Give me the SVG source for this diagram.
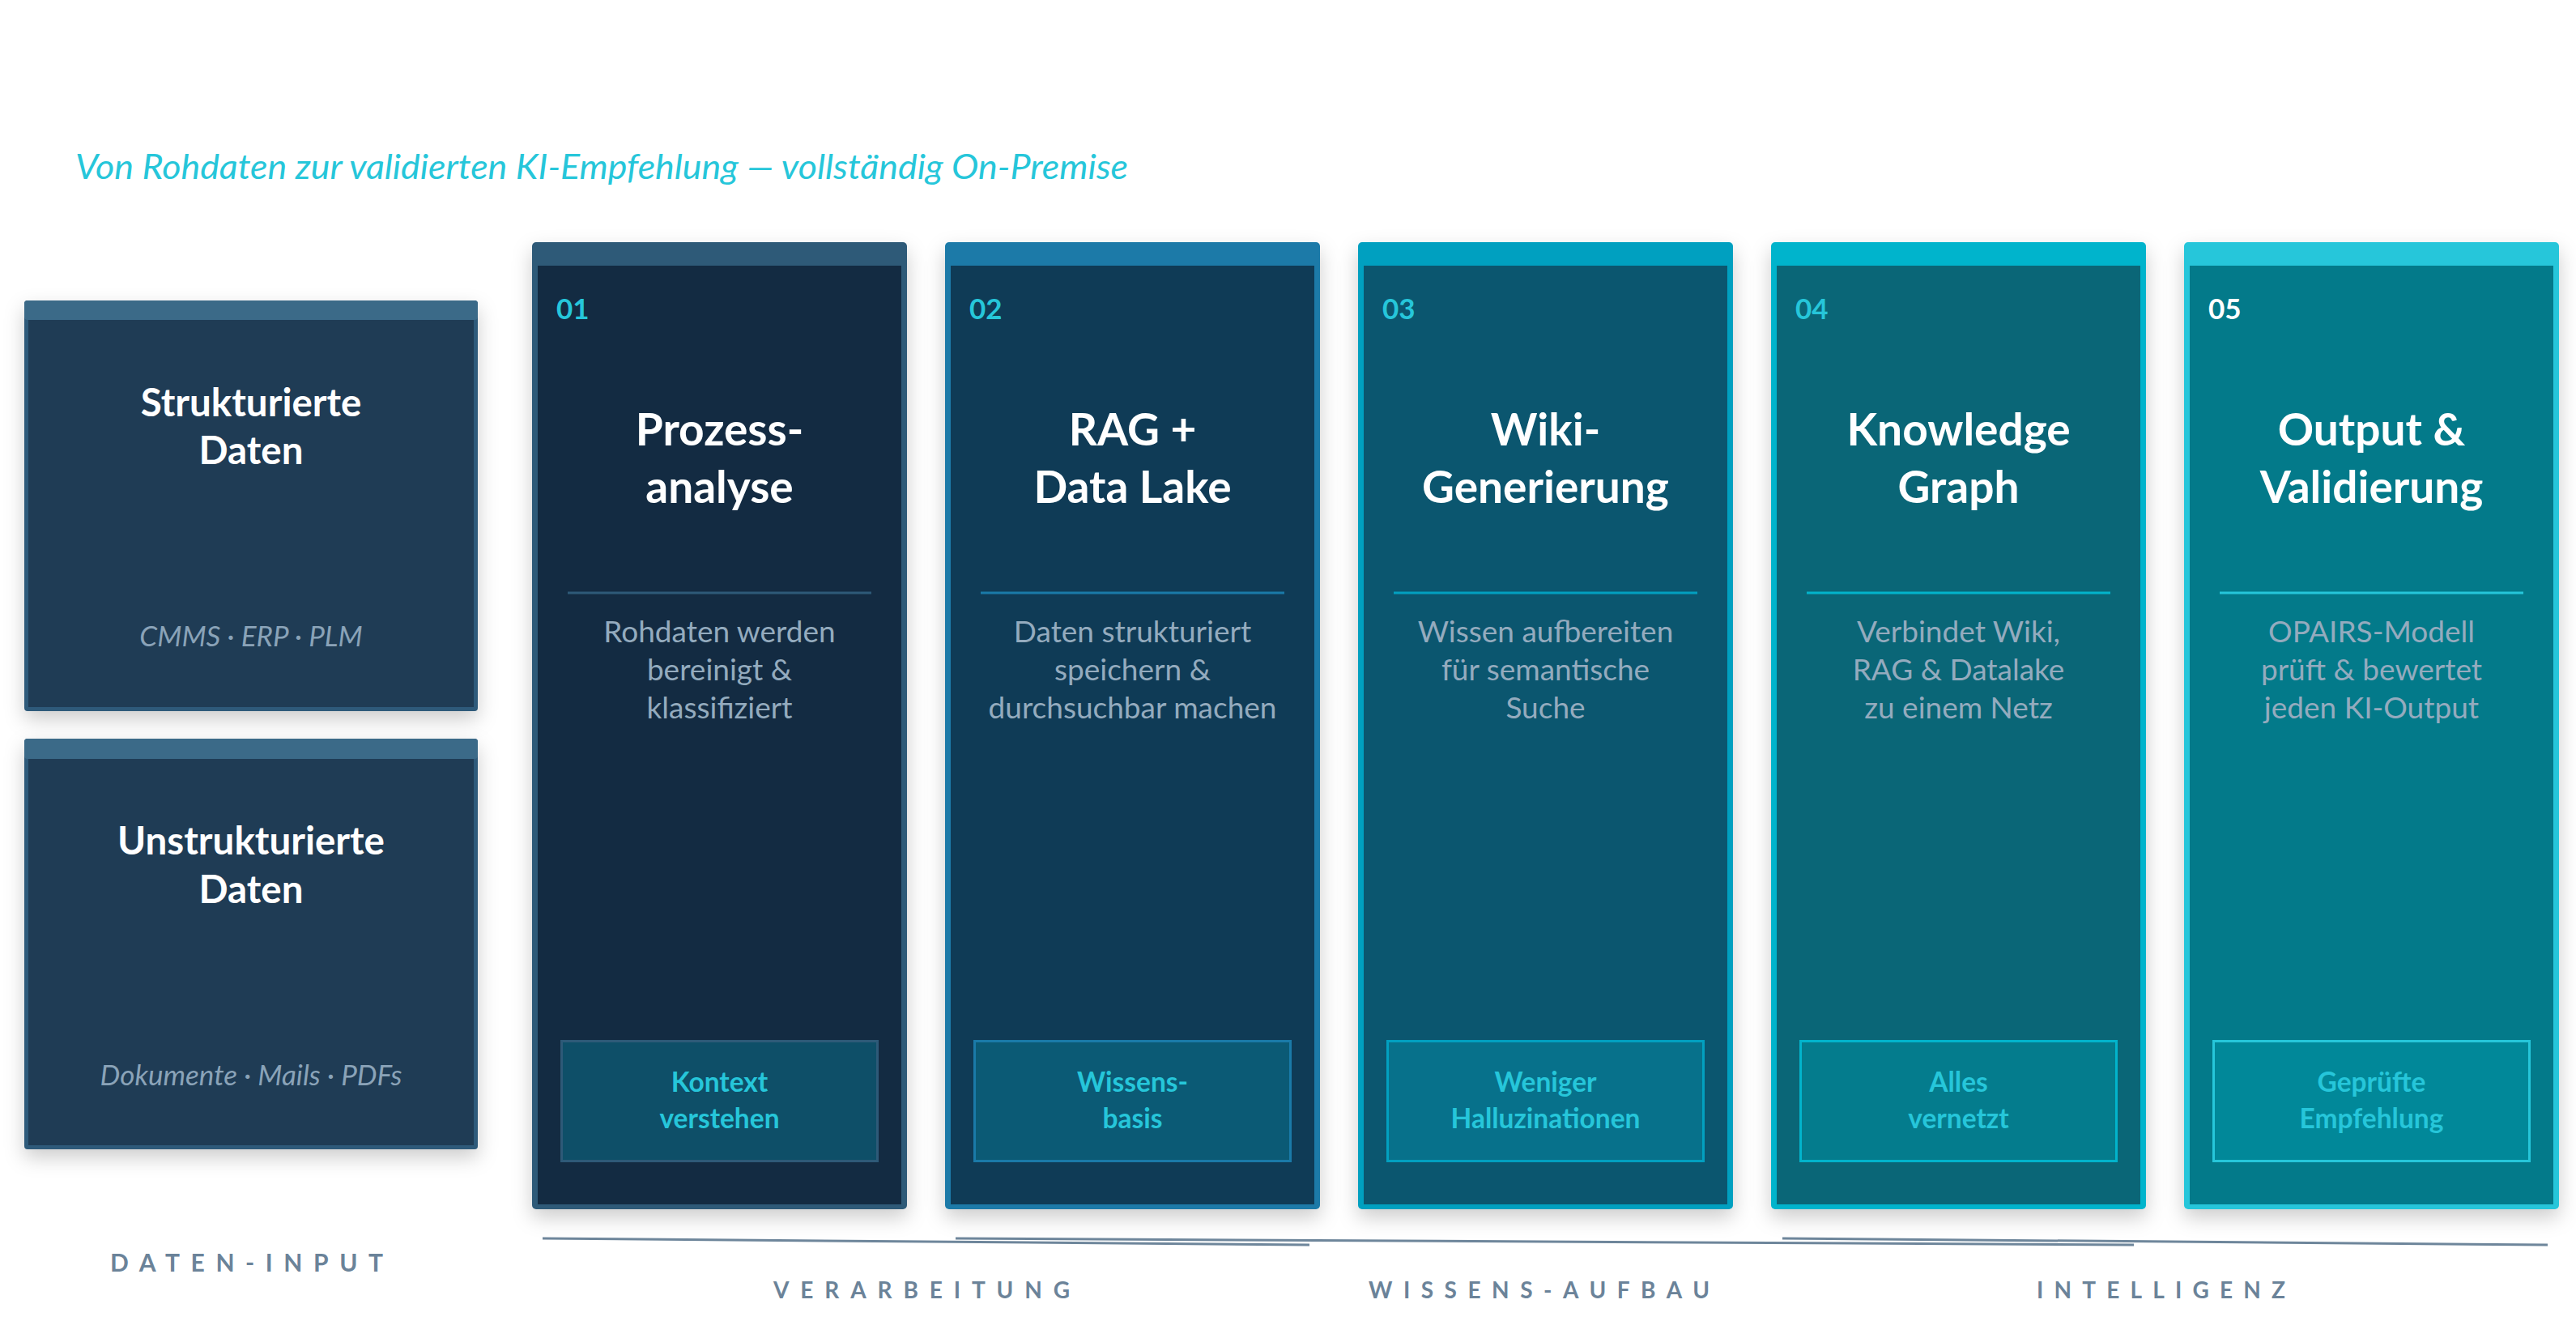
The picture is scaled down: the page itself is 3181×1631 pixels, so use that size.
<svg xmlns="http://www.w3.org/2000/svg" width="3181" height="1631" viewBox="0 0 3181 1631">
<defs>
<filter id="shadow" x="-10%" y="-10%" width="120%" height="125%">
<feDropShadow dx="0" dy="10" stdDeviation="12" flood-color="#000" flood-opacity="0.2"/>
</filter>
<style>
text{font-family:Lato,"Open Sans","Liberation Sans",sans-serif}
.heading{font-style:italic;font-size:43px;fill:#26c6da}
.ltitle{font-weight:700;font-size:47.5px;fill:#ffffff;text-anchor:middle}
.lsub{font-style:italic;font-size:35px;fill:#8aa3b8;text-anchor:middle}
.num{font-weight:700;font-size:35px;fill:#26c6da}
.ctitle{font-weight:700;font-size:55px;fill:#ffffff;text-anchor:middle}
.desc{font-size:37px;fill:#94abbe;text-anchor:middle}
.btext{font-weight:700;font-size:33.5px;fill:#26c6da;text-anchor:middle}
.phase{font-weight:700;font-size:28px;fill:#6b8399}
.pline{stroke:#6e869b;stroke-width:3;fill:none}
</style>
</defs>
<rect width="3181" height="1631" fill="#ffffff"/>
<text class="heading" x="93" y="221" textLength="1300" lengthAdjust="spacingAndGlyphs">Von Rohdaten zur validierten KI-Empfehlung — vollständig On-Premise</text>

<g id="input-structured">
<rect x="30" y="371" width="560" height="507" rx="4" fill="#2f5a7a" filter="url(#shadow)"/>
<rect x="30" y="371" width="560" height="24" rx="4" fill="#3b6a88"/>
<rect x="35" y="395" width="550" height="478" fill="#1f3c55"/>
<text class="ltitle" x="310" y="514">Strukturierte</text>
<text class="ltitle" x="310" y="573">Daten</text>
<text class="lsub" x="310" y="798">CMMS · ERP · PLM</text>
</g>

<g id="input-unstructured">
<rect x="30" y="912" width="560" height="507" rx="4" fill="#2f5a7a" filter="url(#shadow)"/>
<rect x="30" y="912" width="560" height="25" rx="4" fill="#3b6a88"/>
<rect x="35" y="937" width="550" height="477" fill="#1f3c55"/>
<text class="ltitle" x="310" y="1055">Unstrukturierte</text>
<text class="ltitle" x="310" y="1115">Daten</text>
<text class="lsub" x="310" y="1340">Dokumente · Mails · PDFs</text>
</g>

<g id="step-01">
<rect x="657" y="299" width="463" height="1194" rx="5" fill="#2e5a78" filter="url(#shadow)"/>
<rect x="664" y="328" width="449" height="1159" fill="#132b42"/>
<text class="num" x="687" y="394">01</text>
<text class="ctitle" x="888.5" y="550">Prozess-</text>
<text class="ctitle" x="888.5" y="621">analyse</text>
<line x1="701" y1="732" x2="1076" y2="732" stroke="#2e5a78" stroke-width="3"/>
<text class="desc" x="888.5" y="793">Rohdaten werden</text>
<text class="desc" x="888.5" y="840">bereinigt &amp;</text>
<text class="desc" x="888.5" y="887">klassifiziert</text>
<rect x="693.5" y="1285.5" width="390" height="148" fill="#0e4f68" stroke="#2e5a78" stroke-width="3"/>
<text class="btext" x="888.5" y="1348">Kontext</text>
<text class="btext" x="888.5" y="1393">verstehen</text>
</g>

<g id="step-02">
<rect x="1167" y="299" width="463" height="1194" rx="5" fill="#1a7aa8" filter="url(#shadow)"/>
<rect x="1174" y="328" width="449" height="1159" fill="#0f3b56"/>
<text class="num" x="1197" y="394">02</text>
<text class="ctitle" x="1398.5" y="550">RAG +</text>
<text class="ctitle" x="1398.5" y="621">Data Lake</text>
<line x1="1211" y1="732" x2="1586" y2="732" stroke="#1a7aa8" stroke-width="3"/>
<text class="desc" x="1398.5" y="793">Daten strukturiert</text>
<text class="desc" x="1398.5" y="840">speichern &amp;</text>
<text class="desc" x="1398.5" y="887">durchsuchbar machen</text>
<rect x="1203.5" y="1285.5" width="390" height="148" fill="#0b5a75" stroke="#1a7aa8" stroke-width="3"/>
<text class="btext" x="1398.5" y="1348">Wissens-</text>
<text class="btext" x="1398.5" y="1393">basis</text>
</g>

<g id="step-03">
<rect x="1677" y="299" width="463" height="1194" rx="5" fill="#02a0c0" filter="url(#shadow)"/>
<rect x="1684" y="328" width="449" height="1159" fill="#0b566f"/>
<text class="num" x="1707" y="394">03</text>
<text class="ctitle" x="1908.5" y="550">Wiki-</text>
<text class="ctitle" x="1908.5" y="621">Generierung</text>
<line x1="1721" y1="732" x2="2096" y2="732" stroke="#02a0c0" stroke-width="3"/>
<text class="desc" x="1908.5" y="793">Wissen aufbereiten</text>
<text class="desc" x="1908.5" y="840">für semantische</text>
<text class="desc" x="1908.5" y="887">Suche</text>
<rect x="1713.5" y="1285.5" width="390" height="148" fill="#07718b" stroke="#02a0c0" stroke-width="3"/>
<text class="btext" x="1908.5" y="1348">Weniger</text>
<text class="btext" x="1908.5" y="1393">Halluzinationen</text>
</g>

<g id="step-04">
<rect x="2187" y="299" width="463" height="1194" rx="5" fill="#02b4cc" filter="url(#shadow)"/>
<rect x="2194" y="328" width="449" height="1159" fill="#0a6677"/>
<text class="num" x="2217" y="394">04</text>
<text class="ctitle" x="2418.5" y="550">Knowledge</text>
<text class="ctitle" x="2418.5" y="621">Graph</text>
<line x1="2231" y1="732" x2="2606" y2="732" stroke="#02b4cc" stroke-width="3"/>
<text class="desc" x="2418.5" y="793">Verbindet Wiki,</text>
<text class="desc" x="2418.5" y="840">RAG &amp; Datalake</text>
<text class="desc" x="2418.5" y="887">zu einem Netz</text>
<rect x="2223.5" y="1285.5" width="390" height="148" fill="#047c8d" stroke="#02b4cc" stroke-width="3"/>
<text class="btext" x="2418.5" y="1348">Alles</text>
<text class="btext" x="2418.5" y="1393">vernetzt</text>
</g>

<g id="step-05">
<rect x="2697" y="299" width="463" height="1194" rx="5" fill="#26c6da" filter="url(#shadow)"/>
<rect x="2704" y="328" width="449" height="1159" fill="#037a8a"/>
<text class="num" x="2727" y="394" style="fill:#ffffff">05</text>
<text class="ctitle" x="2928.5" y="550">Output &amp;</text>
<text class="ctitle" x="2928.5" y="621">Validierung</text>
<line x1="2741" y1="732" x2="3116" y2="732" stroke="#26c6da" stroke-width="3"/>
<text class="desc" x="2928.5" y="793">OPAIRS-Modell</text>
<text class="desc" x="2928.5" y="840">prüft &amp; bewertet</text>
<text class="desc" x="2928.5" y="887">jeden KI-Output</text>
<rect x="2733.5" y="1285.5" width="390" height="148" fill="#018899" stroke="#26c6da" stroke-width="3"/>
<text class="btext" x="2928.5" y="1348">Geprüfte</text>
<text class="btext" x="2928.5" y="1393">Empfehlung</text>
</g>

<g id="connectors">
<line class="pline" x1="670" y1="1529" x2="1617" y2="1537"/>
<line class="pline" x1="1180" y1="1529" x2="2635" y2="1537"/>
<line class="pline" x1="2201" y1="1529" x2="3146" y2="1537"/>
</g>

<g id="phase-labels">
<text class="phase" x="136" y="1570" style="font-size:30px" textLength="337" lengthAdjust="spacing">DATEN-INPUT</text>
<text class="phase" x="955" y="1603" textLength="366" lengthAdjust="spacing">VERARBEITUNG</text>
<text class="phase" x="1690" y="1603" textLength="421" lengthAdjust="spacing">WISSENS-AUFBAU</text>
<text class="phase" x="2515" y="1603" textLength="307" lengthAdjust="spacing">INTELLIGENZ</text>
</g>
</svg>
